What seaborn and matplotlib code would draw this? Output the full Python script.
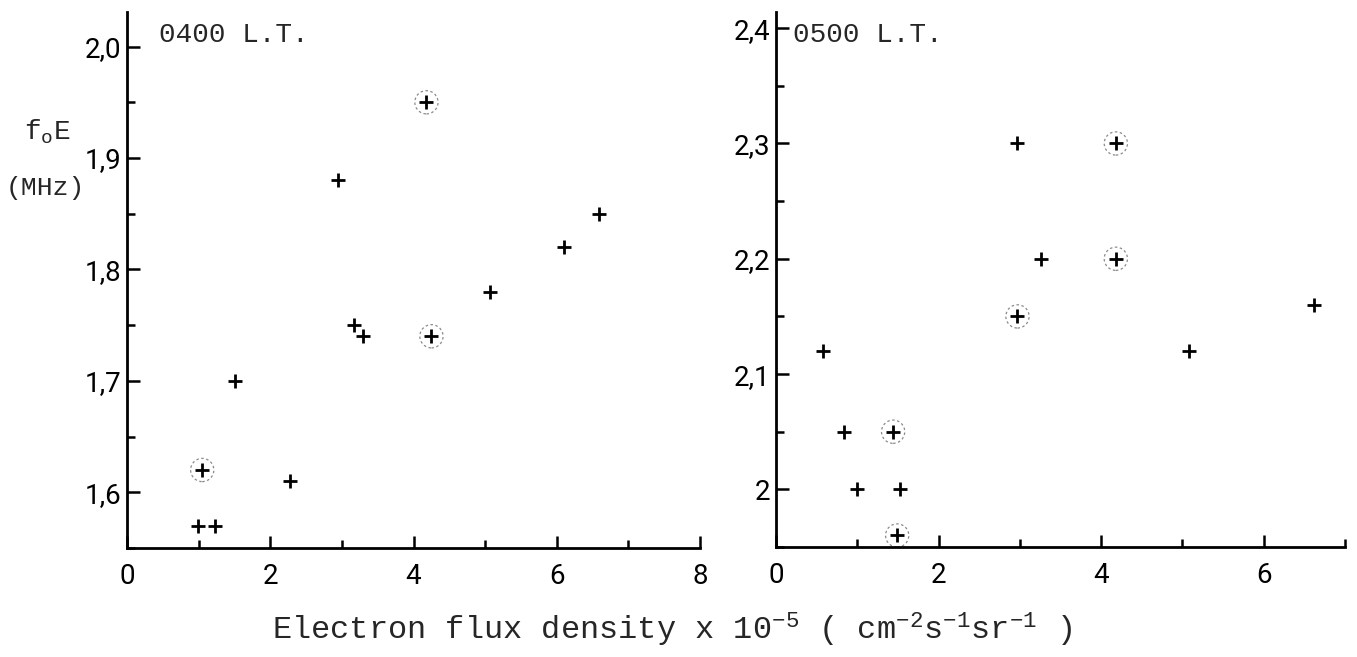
import pandas as pd
import seaborn as sns
import matplotlib
matplotlib.use('Agg')
import matplotlib.pyplot as plt
from matplotlib.ticker import FixedLocator, MultipleLocator

# values
left_x = [4.18, 2.95, 6.59, 6.10, 5.07, 3.17, 3.29, 4.25, 1.51, 1.05, 2.28, 0.99, 1.23]
left_y = [1.95, 1.88, 1.85, 1.82, 1.78, 1.75, 1.74, 1.74, 1.70, 1.62, 1.61, 1.57, 1.57]
left_circled = [True, False, False, False, False, False, False, True, False, True, False, False, False]

right_x = [2.97, 4.18, 3.26, 4.18, 6.62, 2.97, 0.58, 5.08, 0.83, 1.44, 0.99, 1.53, 1.49]
right_y = [2.30, 2.30, 2.20, 2.20, 2.16, 2.15, 2.12, 2.12, 2.05, 2.05, 2.00, 2.00, 1.96]
right_circled = [False, True, False, True, False, True, False, False, False, True, False, False, True]

left_yticks = [1.6, 1.7, 1.8, 1.9, 2.0]
left_yticklabels = ['1,6', '1,7', '1,8', '1,9', '2,0']
left_xticks = [0, 2, 4, 6, 8]
right_yticks = [2.0, 2.1, 2.2, 2.3, 2.4]
right_yticklabels = ['2', '2,1', '2,2', '2,3', '2,4']
right_xticks = [0, 2, 4, 6]

sns.set_style('ticks')
plt.rcParams['font.family'] = ['Liberation Mono', 'DejaVu Sans Mono']
plt.rcParams['mathtext.fontset'] = 'custom'
plt.rcParams['mathtext.rm'] = 'Liberation Mono'
plt.rcParams['mathtext.it'] = 'Liberation Mono'

fig = plt.figure(figsize=(13.57, 6.57), dpi=100)
fig.patch.set_facecolor('white')
ax1 = fig.add_axes([0.0936, 0.1659, 0.4223, 0.8158])
ax2 = fig.add_axes([0.5719, 0.1674, 0.4193, 0.8143])

left = pd.DataFrame({'x': left_x, 'y': left_y, 'circ': left_circled})
right = pd.DataFrame({'x': right_x, 'y': right_y, 'circ': right_circled})


def draw(ax, df, xlim, ylim, xticks, yticks, yticklabels, title):
    sns.scatterplot(data=df, x='x', y='y', marker='+', s=110, color='black',
                    linewidth=2.0, ax=ax, legend=False)
    sns.scatterplot(data=df[df['circ']], x='x', y='y', marker='o', s=280,
                    facecolor='none', edgecolor='#8a8a8a', linewidth=0.9,
                    linestyle=(0, (2, 2)), ax=ax, legend=False)
    ax.set_xlim(*xlim)
    ax.set_ylim(*ylim)
    ax.xaxis.set_major_locator(FixedLocator(xticks))
    ax.xaxis.set_minor_locator(MultipleLocator(1))
    ax.yaxis.set_major_locator(FixedLocator(yticks))
    ax.set_yticklabels(yticklabels)
    ax.yaxis.set_minor_locator(MultipleLocator(0.05))
    ax.tick_params(which='both', direction='in', width=1.8, colors='black',
                   labelsize=20)
    ax.tick_params(which='major', length=9)
    ax.tick_params(which='minor', length=6)
    ax.tick_params(axis='x', pad=11)
    ax.tick_params(axis='y', pad=4)
    for lab in ax.get_xticklabels() + ax.get_yticklabels():
        lab.set_fontfamily('Roboto')
    sns.despine(ax=ax)
    for sp in ['left', 'bottom']:
        ax.spines[sp].set_linewidth(2.0)
        ax.spines[sp].set_color('black')
    ax.set_xlabel('')
    ax.set_ylabel('')
    ax.text(0.055, 0.957, title, transform=ax.transAxes, fontsize=20,
            va='center', ha='left')


draw(ax1, left, (0, 8), (1.55, 2.031), left_xticks, left_yticks,
     left_yticklabels, '0400 L.T.')
draw(ax2, right, (0, 7), (1.95, 2.414), right_xticks, right_yticks,
     right_yticklabels, '0500 L.T.')
ax2.texts[0].set_x(0.03)

fig.text(0.018, 1 - 132 / 657, r'f$_{\rm o}$E', fontsize=20, va='center', ha='left')
fig.text(0.004, 1 - 188 / 657, '(MHz)', fontsize=19, va='center', ha='left')
fig.text(0.495, 1 - 630 / 657,
         r'Electron flux density x 10$^{-5}$ ( cm$^{-2}$s$^{-1}$sr$^{-1}$ )',
         fontsize=23, va='center', ha='center')

fig.savefig('out.png', dpi=100, facecolor='white')
